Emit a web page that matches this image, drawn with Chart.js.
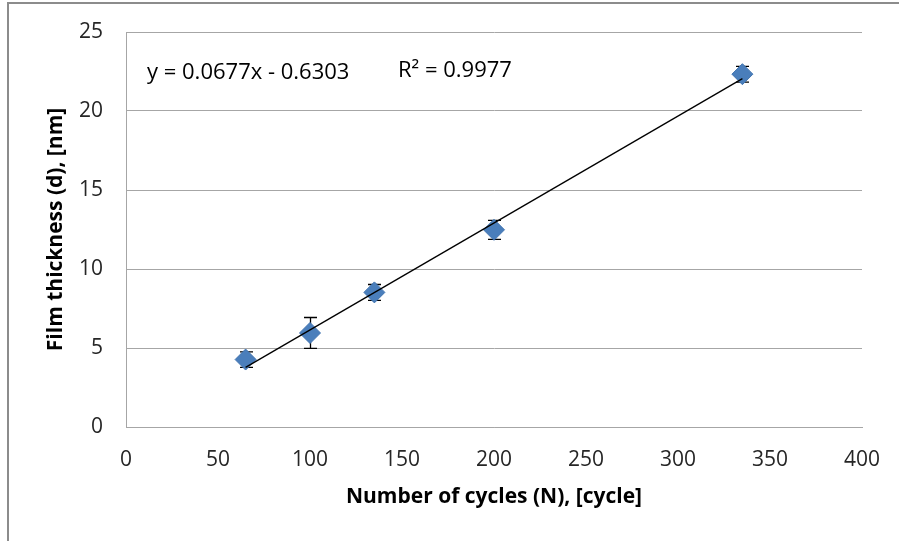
<!DOCTYPE html>
<html><head><meta charset="utf-8">
<script src="https://cdn.jsdelivr.net/npm/chart.js@4/dist/chart.umd.min.js"></script>
<style>
html,body{margin:0;padding:0;background:#fff;}
#wrap{position:relative;width:899px;height:541px;overflow:hidden;}
#frame{position:absolute;left:7px;top:2px;right:-5px;bottom:-5px;border-top:2px solid #8c8c8c;border-left:2px solid #8c8c8c;pointer-events:none;}
canvas{position:absolute;left:0;top:0;}
</style></head><body>
<div id="wrap"><canvas id="c" width="899" height="541"></canvas><div id="frame"></div></div>
<script>
// ---- data ----
const cycles = [65, 100, 135, 200, 335];
const thickness = [4.27, 5.95, 8.52, 12.48, 22.33];
const errors = [0.49, 0.98, 0.5, 0.6, 0.5];
const xTicks = [0, 50, 100, 150, 200, 250, 300, 350, 400];
const yTicks = [0, 5, 10, 15, 20, 25];
const trendSlope = [0.0677];
const trendIntercept = [-0.6303];
const trendRange = [65, 335];
const equationLabel = 'y = 0.0677x - 0.6303';
const r2Label = 'R² = 0.9977';
const xTitle = 'Number of cycles (N), [cycle]';
const yTitle = 'Film thickness (d), [nm]';

const trendPoints = trendRange.map(v => ({x: v, y: trendSlope[0] * v + trendIntercept[0]}));
const points = cycles.map((c, i) => ({x: c, y: thickness[i]}));

const FONT = "'Open Sans', sans-serif";
const GRID = '#a6a6a6';

const errorBarPlugin = {
  id: 'errbars',
  beforeDatasetsDraw(chart) {
    const {ctx, scales: {x, y}} = chart;
    ctx.save();
    ctx.strokeStyle = '#000';
    ctx.lineWidth = 1.3;
    cycles.forEach((c, i) => {
      const px = Math.round(x.getPixelForValue(c)) + 0.5;
      const top = y.getPixelForValue(thickness[i] + errors[i]);
      const bot = y.getPixelForValue(thickness[i] - errors[i]);
      ctx.beginPath();
      ctx.moveTo(px, top); ctx.lineTo(px, bot);
      ctx.moveTo(px - 6.5, top); ctx.lineTo(px + 6.5, top);
      ctx.moveTo(px - 6.5, bot); ctx.lineTo(px + 6.5, bot);
      ctx.stroke();
    });
    ctx.restore();
  }
};

const labelPlugin = {
  id: 'trendLabels',
  afterDatasetsDraw(chart) {
    const {ctx, chartArea: a} = chart;
    ctx.save();
    ctx.fillStyle = '#000';
    ctx.font = "22px " + FONT;
    ctx.textBaseline = 'alphabetic';
    ctx.textAlign = 'left';
    ctx.fillText(equationLabel, a.left + 21, a.top + 47);
    ctx.fillText(r2Label, a.left + 272, a.top + 45);
    ctx.restore();
  }
};

new Chart(document.getElementById('c'), {
  type: 'scatter',
  data: {
    datasets: [
      {
        type: 'line',
        data: trendPoints,
        borderColor: '#000',
        borderWidth: 1.3,
        pointRadius: 0,
        showLine: true,
        fill: false,
        order: 0
      },
      {
        data: points,
        pointStyle: 'rectRot',
        pointRadius: 10.5,
        backgroundColor: '#4a7ebb',
        borderColor: '#4174b0',
        borderWidth: 1,
        order: 1
      }
    ]
  },
  options: {
    responsive: false,
    devicePixelRatio: 1,
    animation: false,
    layout: {padding: {left: 0, top: 32, right: 37, bottom: 0}},
    plugins: {legend: {display: false}, tooltip: {enabled: false}},
    scales: {
      x: {
        type: 'linear', min: 0, max: 400,
        afterBuildTicks: s => { s.ticks = xTicks.map(v => ({value: v})); },
        afterFit: s => { s.height = 114; s.paddingLeft = 0; s.paddingRight = 0; },
        grid: {display: false, drawTicks: false},
        border: {display: true, color: GRID, width: 1},
        ticks: {padding: 20, color: '#262626', font: {family: FONT, size: 21}, maxRotation: 0},
        title: {display: true, text: xTitle, color: '#000', font: {family: FONT, size: 21, weight: 'bold'}, padding: {top: 0, bottom: 31}}
      },
      y: {
        type: 'linear', min: 0, max: 25,
        afterBuildTicks: s => { s.ticks = yTicks.map(v => ({value: v})); },
        afterFit: s => { s.width = 126; s.paddingTop = 0; s.paddingBottom = 0; },
        grid: {display: true, color: GRID, lineWidth: 1, drawTicks: false},
        border: {display: true, color: GRID, width: 1},
        ticks: {padding: 23, color: '#262626', font: {family: FONT, size: 21}},
        title: {display: true, text: yTitle, color: '#000', font: {family: FONT, size: 21, weight: 'bold'}, padding: {top: 43, bottom: 0}}
      }
    }
  },
  plugins: [errorBarPlugin, labelPlugin]
});
</script>
</body></html>
